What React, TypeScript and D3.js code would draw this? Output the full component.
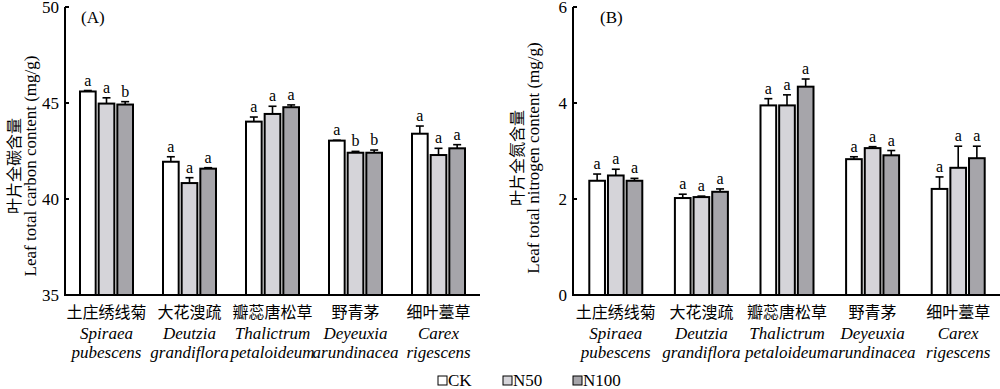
import * as d3 from 'd3'

const speciesCn = ['土庄绣线菊', '大花溲疏', '瓣蕊唐松草', '野青茅', '细叶薹草']
const speciesLat1 = ['Spiraea', 'Deutzia', 'Thalictrum', 'Deyeuxia', 'Carex']
const speciesLat2 = ['pubescens', 'grandiflora', 'petaloideum', 'arundinacea', 'rigescens']
const treatments = ['CK', 'N50', 'N100']
const fills = ['#ffffff', '#d5d4d9', '#a6a5aa']

// leaf total carbon (mg/g), one row per species: CK, N50, N100
const carbonMean = [
  [45.6, 44.97, 44.92],
  [41.94, 40.83, 41.58],
  [44.03, 44.43, 44.78],
  [43.04, 42.41, 42.41],
  [43.4, 42.29, 42.64],
]
const carbonErr = [
  [0.05, 0.3, 0.15],
  [0.26, 0.28, 0.05],
  [0.24, 0.4, 0.12],
  [0.02, 0.07, 0.14],
  [0.4, 0.35, 0.19],
]
const carbonLetters = [
  ['a', 'a', 'b'],
  ['a', 'a', 'a'],
  ['a', 'a', 'a'],
  ['a', 'b', 'b'],
  ['a', 'a', 'a'],
]
const carbonTicks = [35, 40, 45, 50]

// leaf total nitrogen (mg/g)
const nitroMean = [
  [2.38, 2.49, 2.38],
  [2.02, 2.04, 2.15],
  [3.95, 3.95, 4.34],
  [2.83, 3.06, 2.91],
  [2.21, 2.65, 2.85],
]
const nitroErr = [
  [0.14, 0.13, 0.05],
  [0.08, 0.02, 0.06],
  [0.14, 0.22, 0.16],
  [0.05, 0.03, 0.1],
  [0.25, 0.45, 0.25],
]
const nitroLetters = [
  ['a', 'a', 'a'],
  ['a', 'a', 'a'],
  ['a', 'a', 'a'],
  ['a', 'a', 'a'],
  ['a', 'a', 'a'],
]
const nitroTicks = [0, 2, 4, 6]

const FONT = "'Liberation Serif', 'Times New Roman', 'Noto Sans CJK SC', serif"
const CJK = "'Noto Sans CJK SC', sans-serif"

const Panel = ({ left, right, domain, ticks, means, errs, letters, label, yCn, yEn, labelX, yCnX, yEnX, yMid }) => {
  const top = 7
  const bottom = 295
  const x = d3.scaleBand().domain(speciesCn).range([left, right])
  const sub = d3.scaleBand().domain(treatments).range([-26.5, 26.5]).paddingInner(0.16)
  const y = d3.scaleLinear().domain(domain).range([bottom, top])

  return (
    <g>
      {/* bars */}
      {speciesCn.map((sp, i) => (
        <g key={sp} transform={`translate(${x(sp) + x.bandwidth() / 2},0)`}>
          {treatments.map((t, j) => {
            const bx = sub(t)
            const yTop = y(means[i][j])
            const yErr = y(means[i][j] + errs[i][j])
            const cx = bx + sub.bandwidth() / 2
            return (
              <g key={t}>
                <line x1={cx} x2={cx} y1={yTop} y2={yErr} stroke="#000" strokeWidth={1.6} />
                <line x1={cx - 4} x2={cx + 4} y1={yErr} y2={yErr} stroke="#000" strokeWidth={1.6} />
                <rect x={bx} y={yTop} width={sub.bandwidth()} height={bottom - yTop}
                  fill={fills[j]} stroke="#000" strokeWidth={2} />
                <text x={cx} y={yErr - 5} textAnchor="middle" fontFamily={FONT} fontSize={16}>
                  {letters[i][j]}
                </text>
              </g>
            )
          })}
        </g>
      ))}
      {/* axes */}
      <line x1={left} x2={left} y1={top} y2={bottom} stroke="#000" strokeWidth={2} />
      <line x1={left - 1} x2={right} y1={bottom} y2={bottom} stroke="#000" strokeWidth={2} />
      {ticks.map(t => (
        <g key={t}>
          <line x1={left} x2={left + 4} y1={y(t)} y2={y(t)} stroke="#000" strokeWidth={2} />
          <text x={left - 6} y={y(t)} dy="0.35em" textAnchor="end" fontFamily={FONT} fontSize={17}>{t}</text>
        </g>
      ))}
      {/* category labels */}
      {speciesCn.map((sp, i) => {
        const cx = x(sp) + x.bandwidth() / 2
        return (
          <g key={sp}>
            <text x={cx} y={318} textAnchor="middle" fontFamily={CJK} fontSize={16}>{sp}</text>
            <text x={cx} y={339} textAnchor="middle" fontFamily={FONT} fontStyle="italic" fontSize={17}>{speciesLat1[i]}</text>
            <text x={cx} y={358} textAnchor="middle" fontFamily={FONT} fontStyle="italic" fontSize={17}>{speciesLat2[i]}</text>
          </g>
        )
      })}
      <text x={labelX} y={23} fontFamily={FONT} fontSize={17}>{label}</text>
      <text transform={`translate(${yCnX},${yMid}) rotate(-90)`} textAnchor="middle" fontFamily={CJK} fontSize={16}>{yCn}</text>
      <text transform={`translate(${yEnX},${yMid}) rotate(-90)`} textAnchor="middle" fontFamily={FONT} fontSize={17}>{yEn}</text>
    </g>
  )
}

export default function App() {
  const legendX = [438, 503, 573]
  return (
    <svg width={1000} height={389} style={{ position: 'absolute', left: 0, top: 0, background: '#fff' }}>
      <Panel left={65} right={480} domain={[35, 50]} ticks={carbonTicks}
        means={carbonMean} errs={carbonErr} letters={carbonLetters}
        label="(A)" yCn="叶片全碳含量" yEn="Leaf total carbon content (mg/g)"
        labelX={81} yCnX={20} yEnX={36} yMid={166} />
      <Panel left={573} right={1001} domain={[0, 6]} ticks={nitroTicks}
        means={nitroMean} errs={nitroErr} letters={nitroLetters}
        label="(B)" yCn="叶片全氮含量" yEn="Leaf total nitrogen content (mg/g)"
        labelX={600} yCnX={523} yEnX={539} yMid={158} />
      {treatments.map((t, i) => (
        <g key={t}>
          <rect x={legendX[i]} y={376} width={9} height={9} fill={fills[i]} stroke="#000" strokeWidth={1} />
          <text x={legendX[i] + 10} y={386} fontFamily={FONT} fontSize={17}>{t}</text>
        </g>
      ))}
    </svg>
  )
}
